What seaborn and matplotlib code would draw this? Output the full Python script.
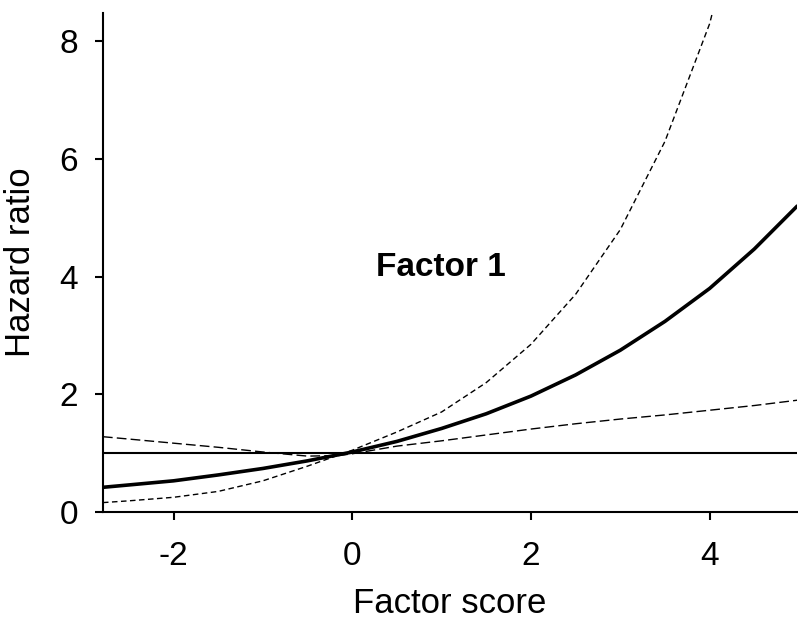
import matplotlib
matplotlib.use("Agg")
import matplotlib.pyplot as plt
import seaborn as sns

# values
score_main = [-2.79, -2.5, -2.0, -1.5, -1.0, -0.5, 0.0, 0.5, 1.0, 1.5, 2.0, 2.5, 3.0, 3.5, 4.0, 4.5, 4.98]
hr_main = [0.42, 0.46, 0.53, 0.63, 0.74, 0.87, 1.02, 1.2, 1.42, 1.67, 1.97, 2.33, 2.75, 3.24, 3.8, 4.47, 5.2]

score_steep = [-2.79, -2.5, -2.0, -1.5, -1.0, -0.5, 0.0, 0.5, 1.0, 1.5, 2.0, 2.5, 3.0, 3.5, 4.0, 4.05]
hr_steep = [0.16, 0.19, 0.25, 0.35, 0.53, 0.78, 1.05, 1.36, 1.7, 2.2, 2.85, 3.7, 4.8, 6.3, 8.3, 8.6]

score_flat = [-2.79, -2.5, -2.0, -1.5, -1.0, -0.5, -0.15, 0.0, 0.5, 1.0, 1.5, 2.0, 2.5, 3.0, 3.5, 4.0, 4.5, 4.98]
hr_flat = [1.28, 1.24, 1.17, 1.1, 1.02, 0.95, 0.96, 0.99, 1.12, 1.21, 1.31, 1.41, 1.5, 1.58, 1.65, 1.73, 1.81, 1.9]

reference_hr = 1.0
x_ticks = [-2, 0, 2, 4]
y_ticks = [0, 2, 4, 6, 8]

sns.set_style("ticks")
plt.rcParams['font.family'] = ['Liberation Sans', 'DejaVu Sans']
plt.rcParams['axes.unicode_minus'] = False
plt.rcParams['text.color'] = 'black'
plt.rcParams['axes.labelcolor'] = 'black'
plt.rcParams['xtick.color'] = 'black'
plt.rcParams['ytick.color'] = 'black'

fig = plt.figure(figsize=(7.98, 6.27), dpi=100)
ax = fig.add_axes([0.129, 0.1834, 0.870, 0.7957])

ax.axhline(reference_hr, color="black", lw=1.5)
sns.lineplot(x=score_flat, y=hr_flat, ax=ax, color="black", lw=1.0, sort=False)
ax.lines[-1].set_dashes((7, 3))
sns.lineplot(x=score_steep, y=hr_steep, ax=ax, color="black", lw=1.0, sort=False)
ax.lines[-1].set_dashes((4, 2.5))
sns.lineplot(x=score_main, y=hr_main, ax=ax, color="black", lw=2.6, sort=False)

ax.text(0.99, 4.15, "Factor 1", fontsize=24, fontweight="bold", ha="center", va="center")

ax.set_xlim(-2.79, 4.98)
ax.set_ylim(0, 8.48)
ax.set_xticks(x_ticks)
ax.set_yticks(y_ticks)
ax.tick_params(labelsize=24, length=5.8, width=1.5)
ax.tick_params(axis="x", pad=15)
ax.tick_params(axis="y", pad=12)
ax.set_xlabel("Factor score", fontsize=25, labelpad=11)
ax.set_ylabel("Hazard ratio", fontsize=25, labelpad=16)
for s in ["left", "bottom"]:
    ax.spines[s].set_linewidth(1.5)
    ax.spines[s].set_color("black")
sns.despine(ax=ax)

fig.savefig("out.png", dpi=100)
